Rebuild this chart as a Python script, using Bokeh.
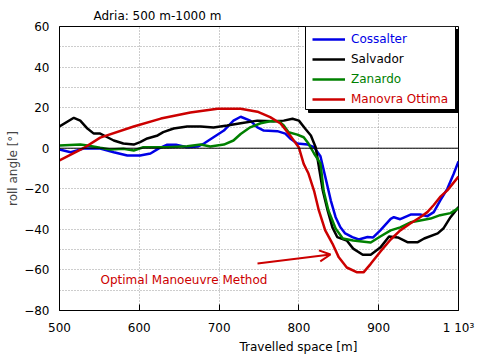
from bokeh.plotting import figure
from bokeh.models import (Range1d, FixedTicker, Span, Label, Arrow, OpenHead,
                          BoxAnnotation, Legend, LegendItem, Title)
from bokeh.embed import file_html
from bokeh.resources import INLINE

# ---------------- data ----------------
series_names = ["Cossalter", "Salvador", "Zanardo", "Manovra Ottima"]
series_colors = ["#0000e6", "#000000", "#008000", "#cc0000"]

cossalter_x = [500, 514, 530, 551, 568, 585, 601, 614, 624, 635, 646, 660, 673, 681, 693, 706, 718, 727,
               739, 748, 756, 773, 783, 789, 798, 811, 819, 827, 833, 840, 846, 852, 858, 867, 875, 886,
               893, 902, 915, 919, 927, 940, 952, 961, 969, 977, 986, 994, 1000]
cossalter_y = [-0.6, -2, -0.2, -0.2, -2, -3.6, -3.6, -2.6, -0.2, 1.7, 1.7, 0.5, 0.8, 2.3, 5.4, 8.7, 13.6, 15.5,
               13.6, 10.3, 8.7, 8.4, 7.2, 4.8, 2.3, 1.8, 0.5, -4, -14, -25.8, -34, -39, -42, -43.8, -45, -43.8,
               -44, -40.5, -34.8, -34, -35, -32.7, -32.7, -33.5, -31.5, -25.8, -20, -12.6, -6.5]

salvador_x = [500, 518, 526, 535, 543, 551, 560, 568, 580, 593, 601, 610, 623, 630, 643, 660, 677, 693, 710,
              727, 748, 768, 781, 792, 800, 808, 815, 821, 825, 830, 836, 842, 848, 860, 868, 880, 890, 902,
              913, 924, 936, 949, 957, 974, 981, 990, 1000]
salvador_y = [10.7, 15, 13.6, 9.7, 7.2, 7.2, 5.4, 3.8, 2.3, 1.8, 3, 4.8, 6.3, 7.9, 9.7, 10.7, 10.7, 10.2, 11.2,
              12.3, 13.6, 13.3, 13.6, 14.5, 13.6, 9.6, 6.3, 0.5, -9, -21, -30.7, -39, -43.8, -45.5, -49.5, -52.5,
              -52.5, -49, -43.5, -44, -46.3, -46.3, -44.5, -42, -39.6, -34, -29]

zanardo_x = [500, 526, 535, 551, 564, 580, 593, 605, 635, 660, 677, 689, 706, 718, 727, 739, 752, 764, 775,
             781, 787, 798, 806, 812, 819, 827, 831, 837, 846, 855, 868, 890, 902, 915, 927, 940, 952, 965,
             977, 990, 1000]
zanardo_y = [1.3, 1.8, 1.3, 0.2, -0.6, -0.3, -1.1, 0.5, 0.5, 1, 1.8, 0.8, 1.8, 3.8, 7, 10.3, 12.3, 13.3, 13.3,
             11.2, 7.9, 6.7, 5.4, 2.3, -2.6, -7.5, -21, -30.7, -39.6, -44.5, -45.5, -46.5, -43.5, -40.5, -39,
             -36.5, -35.6, -34.7, -33, -32, -29.5]

ottima_x = [500, 530, 551, 593, 627, 664, 698, 727, 748, 764, 777, 789, 800, 806, 812, 819, 825, 833, 842,
            850, 860, 873, 881, 890, 902, 915, 927, 940, 952, 961, 969, 977, 986, 1000]
ottima_y = [-6, 0, 5.2, 10.7, 14.6, 17.6, 19.5, 19.5, 18, 15.3, 12.2, 6.3, 0.3, -7.7, -12.5, -21, -30.7, -40.5,
            -47, -53.8, -58.8, -61.2, -61.2, -57, -51, -45, -40.5, -37, -34, -31.5, -28, -24, -20.8, -14]

x_ticks = [500, 600, 700, 800, 900, 1000]
x_tick_labels = {1000: "1 10\u00b3"}
y_ticks = [-80, -60, -40, -20, 0, 20, 40, 60]
y_grid_ticks = list(range(-80, 61, 10))

title_text = "Adria: 500 m-1000 m"
x_label = "Travelled space [m]"
y_label = "roll angle [\u00b0]"
note_text = "Optimal Manoeuvre Method"

# ---------------- layout ----------------
FONT = "DejaVu Sans"
X0, X1, Y0, Y1 = 500, 1000, -80, 60
FW, FH = 399, 284                     # frame size in px
PX = FW / (X1 - X0)                   # px per data unit (x)
PY = FH / (Y1 - Y0)                   # px per data unit (y)


def dx(px):   # frame px from left -> data x
    return X0 + px / PX


def dy(px):   # frame px from bottom -> data y
    return Y0 + px / PY


p = figure(width=477, height=358, title=None,
           x_range=Range1d(X0, X1), y_range=Range1d(Y0, Y1),
           output_backend="svg", toolbar_location=None,
           min_border_left=59, min_border_right=19, min_border_top=26, min_border_bottom=48)

p.background_fill_color = "white"
p.border_fill_color = "white"
p.outline_line_color = "black"
p.outline_line_width = 1

# axes
p.xaxis.ticker = FixedTicker(ticks=x_ticks, minor_ticks=[])
p.xaxis.major_label_overrides = x_tick_labels
p.yaxis.ticker = FixedTicker(ticks=y_ticks, minor_ticks=[])
for ax in (p.xaxis, p.yaxis):
    ax.axis_line_color = "black"
    ax.major_label_text_font = FONT
    ax.major_label_text_font_size = "12px"
    ax.major_label_text_color = "black"
    ax.minor_tick_line_color = None
p.xaxis.major_tick_in = 6
p.xaxis.major_tick_out = 0
p.xaxis.major_tick_line_color = "black"
p.xaxis.major_label_standoff = 10
p.yaxis.major_tick_in = 0
p.yaxis.major_tick_out = 0
p.yaxis.major_label_standoff = 10
p.yaxis.axis_label = y_label
p.yaxis.axis_label_text_font = FONT
p.yaxis.axis_label_text_font_size = "12px"
p.yaxis.axis_label_text_font_style = "normal"
p.yaxis.axis_label_standoff = 1

# title (above) and x label (below) as Title objects, left-aligned with offsets
p.add_layout(Title(text=title_text, align="left", offset=34, standoff=8, text_font=FONT,
                   text_font_size="12px", text_font_style="normal", text_color="black"), "above")
p.add_layout(Title(text=x_label, align="left", offset=180, standoff=0, text_font=FONT,
                   text_font_size="12px", text_font_style="normal", text_color="black"), "below")

# grids
p.xgrid.ticker = FixedTicker(ticks=x_ticks)
p.ygrid.ticker = FixedTicker(ticks=y_grid_ticks)
for g in (p.xgrid, p.ygrid):
    g.grid_line_color = "#9a9a9a"
    g.grid_line_dash = "1 2"
    g.grid_line_width = 1

p.add_layout(Span(location=0, dimension="width", line_color="black", line_width=1))

# curves
xs = [cossalter_x, salvador_x, zanardo_x, ottima_x]
ys = [cossalter_y, salvador_y, zanardo_y, ottima_y]
renderers = []
for x, y, c in zip(xs, ys, series_colors):
    renderers.append(p.line(x, y, line_color=c, line_width=2.5))

# annotation arrow + text
p.add_layout(Arrow(end=OpenHead(size=11, line_color="#cc0000", line_width=2),
                   x_start=dx(198), y_start=dy(47), x_end=dx(271), y_end=dy(56),
                   line_color="#cc0000", line_width=2))
p.add_layout(Label(x=dx(41), y=dy(31), text=note_text, text_font=FONT, text_font_size="12px",
                   text_color="#cc0000", text_align="left", text_baseline="middle"))

# legend box + shadow
p.add_layout(BoxAnnotation(left=dx(249), right=X1 + 5, top=dy(FH - 3), bottom=dy(198),
                           fill_color="black", fill_alpha=1, line_color="black", line_alpha=1))
p.add_layout(BoxAnnotation(left=dx(246), right=dx(396), top=Y1, bottom=dy(201),
                           fill_color="white", fill_alpha=1, line_color="black", line_width=1, line_alpha=1))

row_bottoms = [261, 241, 221, 201]
for name, c, r, b in zip(series_names, series_colors, renderers, row_bottoms):
    lg = Legend(items=[LegendItem(label=name, renderers=[r])], location=(253, b),
                padding=0, margin=0, spacing=0, glyph_width=33, glyph_height=20, label_height=20,
                label_standoff=6, label_text_font=FONT, label_text_font_size="12px",
                label_text_color=c, border_line_color=None, background_fill_alpha=0)
    p.add_layout(lg, "center")

open("out.html", "w").write(file_html(p, INLINE))
